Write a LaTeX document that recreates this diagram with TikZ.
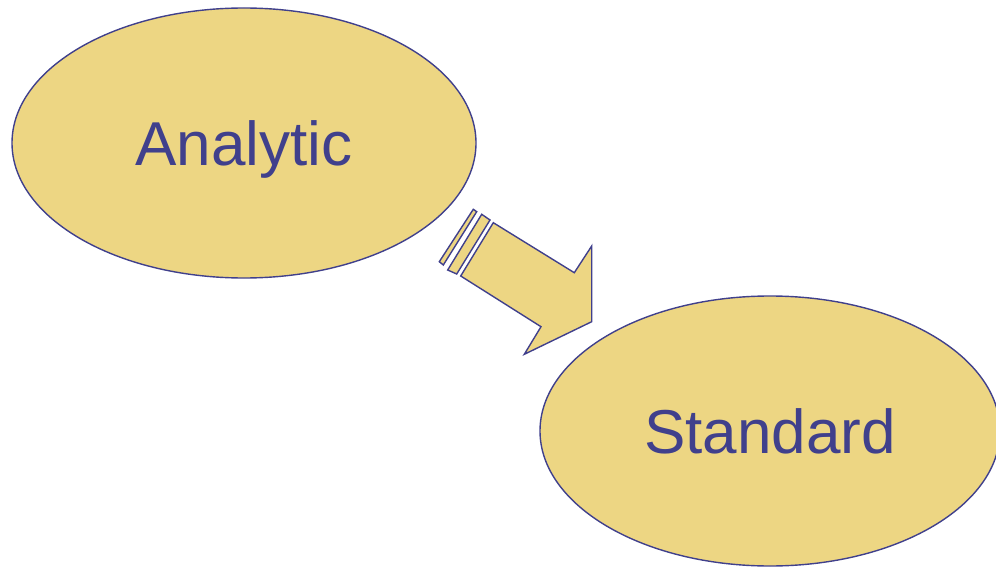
\documentclass[tikz,border=0pt]{standalone}
\usepackage{fontspec}
\setmainfont{Liberation Sans}
\usetikzlibrary{positioning, shapes.geometric}
\definecolor{sand}{RGB}{237,214,131}
\definecolor{ink}{RGB}{64,64,140}
\tikzstyle{Blob} = [
ellipse, draw=ink, fill=sand, line width=1.4pt,
text=ink, font=\fontsize{62}{70}\selectfont,
text height=45pt, text depth=0pt]
\tikzstyle{BigArrow} = [draw=ink, fill=sand, line width=1.4pt, line join=miter]

\begin{document}
\begin{tikzpicture}[x=1pt, y=-1pt]
    \useasboundingbox (0,0) rectangle (996,567);
    \node [Blob, minimum width=464pt, minimum height=270pt] (analytic) at (244,143) {Analytic};
    \node [Blob, minimum width=460pt, minimum height=270pt] (standard) at (770,431) {Standard};
    % block arrow with two stripes behind it
    \draw[BigArrow] (473.3,209.3) -- (476.7,211.7) -- (443.3,265) -- (439.3,261.7) -- cycle;
    \draw[BigArrow] (481.7,214.3) -- (490,220) -- (456.7,274) -- (447.7,270) -- cycle;
    \draw[BigArrow] (493.3,222.7) -- (574.3,272.7) -- (591.7,246) -- (591.7,321.7)
        -- (524.3,354.3) -- (541,326.7) -- (460.7,276) -- cycle;
\end{tikzpicture}
\end{document}
